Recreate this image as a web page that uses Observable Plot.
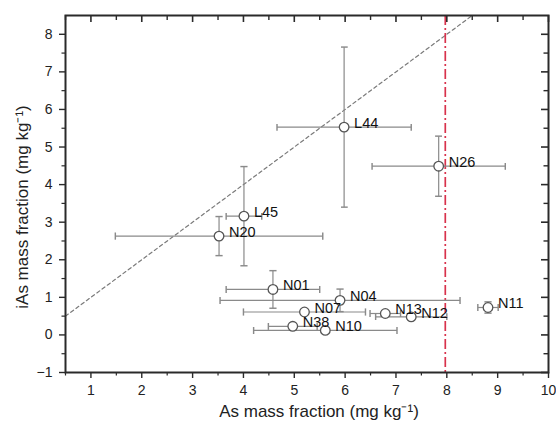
<!DOCTYPE html>
<html>
<head>
<meta charset="utf-8">
<script src="https://cdn.jsdelivr.net/npm/d3@7"></script>
<script src="https://cdn.jsdelivr.net/npm/@observablehq/plot@0.6"></script>
<style>
  body { margin: 0; background: #fff; }
  svg { font-family: "Liberation Sans", Arial, sans-serif; }
</style>
</head>
<body>
<div id="chart"></div>
<script>
const names = ["L44", "L45", "N20", "N26", "N01", "N04", "N07", "N13", "N12", "N11", "N38", "N10"];
const asMass = [5.98, 4.01, 3.52, 7.84, 4.58, 5.90, 5.20, 6.79, 7.30, 8.81, 4.97, 5.61];
const iasMass = [5.53, 3.16, 2.63, 4.49, 1.21, 0.92, 0.61, 0.57, 0.48, 0.73, 0.23, 0.12];
const asErr = [1.32, 0.35, 2.04, 1.31, 0.92, 2.36, 1.20, 0.30, 0.70, 0.20, 0.48, 1.41];
const iasErr = [2.13, 1.32, 0.52, 0.80, 0.50, 0.30, 0.05, 0.05, 0.06, 0.15, 0.05, 0.05];
const xMajor = [1, 2, 3, 4, 5, 6, 7, 8, 9, 10];
const yMajor = [-1, 0, 1, 2, 3, 4, 5, 6, 7, 8];
const xMinor = [0.5, 1.5, 2.5, 3.5, 4.5, 5.5, 6.5, 7.5, 8.5, 9.5];
const yMinor = [-0.5, 0.5, 1.5, 2.5, 3.5, 4.5, 5.5, 6.5, 7.5];
const oneToOne = [0.5, 8.5];
const limitX = [7.97];
const xDomain = [0.5, 10];
const yDomain = [-1, 8.5];

const data = names.map((n, i) => ({name: n, x: asMass[i], y: iasMass[i], ex: asErr[i], ey: iasErr[i]}));
const diag = oneToOne.map(v => ({x: v, y: v}));
const errColor = "#8a8a8a";
const axisColor = "#2a2a2a";
const blank = () => "";

const W = 556, H = 430, ML = 65, MR = 8, MT = 15, MB = 58;
const innerW = W - ML - MR, innerH = H - MT - MB;

const chart = Plot.plot({
  width: W,
  height: H,
  marginLeft: ML,
  marginRight: MR,
  marginTop: MT,
  marginBottom: MB,
  style: {fontSize: "14px", fontFamily: "'Liberation Sans', Arial, sans-serif", color: "#222"},
  x: {domain: xDomain},
  y: {domain: yDomain},
  marks: [
    Plot.line(diag, {x: "x", y: "y", stroke: "#7a7a7a", strokeWidth: 1.2, strokeDasharray: "3.5,3"}),
    Plot.ruleX(limitX, {stroke: "#d8324c", strokeWidth: 1.7, strokeDasharray: "10,3,2,3"}),
    Plot.link(data, {x1: d => d.x - d.ex, x2: d => d.x + d.ex, y1: "y", y2: "y", stroke: errColor, strokeWidth: 1.2, markerStart: "tick", markerEnd: "tick"}),
    Plot.link(data, {x1: "x", x2: "x", y1: d => d.y - d.ey, y2: d => d.y + d.ey, stroke: errColor, strokeWidth: 1.2, markerStart: "tick", markerEnd: "tick"}),
    Plot.dot(data, {x: "x", y: "y", r: 4.8, fill: "white", stroke: "#555", strokeWidth: 1.3}),
    Plot.text(data, {x: "x", y: "y", text: "name", dx: 10, dy: -4, textAnchor: "start", fontSize: 14.5, fill: "#111"}),
    Plot.axisX(xMajor, {anchor: "bottom", tickSize: 6, tickPadding: 7, fontSize: 14, label: "As mass fraction (mg kg⁻¹)", labelAnchor: "center", labelArrow: "none", labelOffset: 44, stroke: axisColor, strokeWidth: 1.4}),
    Plot.axisX(xMinor, {anchor: "bottom", tickSize: 3.5, tickFormat: blank, label: null, stroke: axisColor, strokeWidth: 1.2}),
    Plot.tickX(xMajor, {x: d => d, insetBottom: innerH - 7, stroke: axisColor, strokeWidth: 1.6}),
    Plot.tickX(xMinor, {x: d => d, insetBottom: innerH - 5, stroke: axisColor, strokeWidth: 1.4}),
    Plot.axisY(yMajor, {anchor: "left", tickSize: 6, tickPadding: 7, fontSize: 14, label: "iAs mass fraction (mg kg⁻¹)", labelAnchor: "center", labelArrow: "none", labelOffset: 50, stroke: axisColor, strokeWidth: 1.4}),
    Plot.axisY(yMinor, {anchor: "left", tickSize: 3.5, tickFormat: blank, label: null, stroke: axisColor, strokeWidth: 1.2}),
    Plot.tickY(yMajor, {y: d => d, insetLeft: innerW - 7, stroke: axisColor, strokeWidth: 1.6}),
    Plot.tickY(yMinor, {y: d => d, insetLeft: innerW - 4.5, stroke: axisColor, strokeWidth: 1.4}),
    Plot.frame({stroke: axisColor, strokeWidth: 2})
  ]
});
const xl = chart.querySelector("[aria-label='x-axis label'] text");
if (xl) { xl.style.fontSize = "17px"; xl.setAttribute("dx", "12"); }
const yl = chart.querySelector("[aria-label='y-axis label'] text");
if (yl) { yl.style.fontSize = "17px"; yl.setAttribute("dx", "-13"); }
document.getElementById("chart").appendChild(chart);
</script>
</body>
</html>
